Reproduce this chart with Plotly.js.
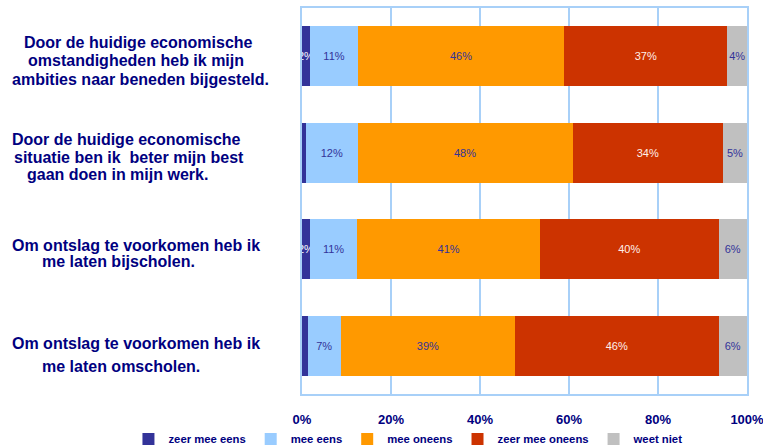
<!DOCTYPE html>
<html>
<head>
<meta charset="utf-8">
<script src="https://cdn.plot.ly/plotly-3.0.1.min.js"></script>
<style>html,body{margin:0;padding:0;background:#fff;}#chart{width:763px;height:448px;}</style>
</head>
<body>
<div id="chart"></div>
<script>
// Data
const categories = [
  "Door de huidige economische<br>omstandigheden heb ik mijn<br>ambities naar beneden bijgesteld.",
  "Door de huidige economische<br>situatie ben ik  beter mijn best<br>gaan doen in mijn werk.",
  "Om ontslag te voorkomen heb ik<br>me laten bijscholen.",
  "Om ontslag te voorkomen heb ik<br>me laten omscholen."
];
const seriesNames = ["zeer mee eens", "mee eens", "mee oneens", "zeer mee oneens", "weet niet"];
// bar lengths (percent)
const zeerMeeEens   = [1.8, 0.9, 1.8, 1.3];
const meeEens       = [10.8, 11.6, 10.6, 7.4];
const meeOneens     = [46.3, 48.3, 41.1, 39.2];
const zeerMeeOneens = [36.7, 33.8, 40.1, 45.7];
const weetNiet      = [4.4, 5.4, 6.4, 6.4];
// printed labels
const zeerMeeEensLbl   = ["2%", "", "2%", ""];
const meeEensLbl       = ["11%", "12%", "11%", "7%"];
const meeOneensLbl     = ["46%", "48%", "41%", "39%"];
const zeerMeeOneensLbl = ["37%", "34%", "40%", "46%"];
const weetNietLbl      = ["4%", "5%", "6%", "6%"];
const xTicks = [0, 20, 40, 60, 80, 100];
const xTickLabels = ["0%", "20%", "40%", "60%", "80%", "100%"];

const colors = ["#333399", "#99CCFF", "#FF9900", "#CC3300", "#C0C0C0"];
const textColors = ["#ffffff", "#333399", "#333399", "#fff0ea", "#333399"];
const values = [zeerMeeEens, meeEens, meeOneens, zeerMeeOneens, weetNiet];
const labels = [zeerMeeEensLbl, meeEensLbl, meeOneensLbl, zeerMeeOneensLbl, weetNietLbl];

const cats = categories.map((c, i) => "c" + i);
const FONT = "Arial, 'Liberation Sans', sans-serif";

const traces = values.map((vals, s) => ({
  type: "bar",
  orientation: "h",
  name: seriesNames[s],
  y: cats,
  x: vals,
  marker: {color: colors[s], line: {width: 0}},
  text: labels[s],
  textposition: "inside",
  insidetextanchor: "middle",
  textangle: 0,
  constraintext: "none",
  textfont: {family: FONT, size: 11, color: textColors[s]},
  hoverinfo: "skip"
}));

// per-line placement of the category text (left edge px, vertical offset px from bar centre)
const lineLeft = [[22, 26, 10], [10, 12, 25], [10, 40], [10, 40]];
const lineOffset = [[-14, 4.5, 23], [-13.5, 4.5, 22], [-4, 12.5], [-2, 20.5]];
const plotLeft = 302, plotWidth = 445;

const annotations = [];
categories.forEach((c, i) => {
  c.split("<br>").forEach((line, j) => {
    annotations.push({
      xref: "paper", yref: "y",
      x: (lineLeft[i][j] - plotLeft) / plotWidth, y: cats[i],
      xanchor: "left", yanchor: "middle",
      yshift: -lineOffset[i][j],
      showarrow: false,
      text: line,
      font: {family: FONT, size: 16, color: "#000080", weight: "bold"}
    });
  });
});

const layout = {
  width: 763, height: 448,
  margin: {l: 302, r: 16, t: 8, b: 54, autoexpand: false},
  paper_bgcolor: "#ffffff",
  plot_bgcolor: "#ffffff",
  barmode: "stack",
  bargap: 0.38,
  showlegend: true,
  legend: {
    orientation: "h",
    x: -0.39, xanchor: "left",
    y: -0.1166, yanchor: "middle",
    font: {family: FONT, size: 11.3, color: "#000080", weight: "bold"},
    bgcolor: "rgba(0,0,0,0)",
    traceorder: "normal",
    itemclick: false
  },
  xaxis: {
    range: [0, 100],
    tickvals: xTicks,
    ticktext: xTickLabels,
    showgrid: true,
    gridcolor: "#A8D0F8",
    gridwidth: 1.5,
    zeroline: false,
    showline: true,
    mirror: true,
    linecolor: "#A8D0F8",
    linewidth: 2,
    ticks: "",
    ticklabelstandoff: 12,
    ticklabeloverflow: "allow",
    automargin: false,
    tickfont: {family: FONT, size: 13, color: "#000080", weight: "bold"},
    fixedrange: true
  },
  yaxis: {
    type: "category",
    categoryorder: "array",
    categoryarray: cats,
    autorange: "reversed",
    showticklabels: false,
    showgrid: false,
    zeroline: false,
    showline: true,
    mirror: true,
    linecolor: "#A8D0F8",
    linewidth: 2,
    ticks: "",
    fixedrange: true
  },
  annotations: annotations
};

Plotly.newPlot("chart", traces, layout, {displayModeBar: false, staticPlot: true});
</script>
</body>
</html>
